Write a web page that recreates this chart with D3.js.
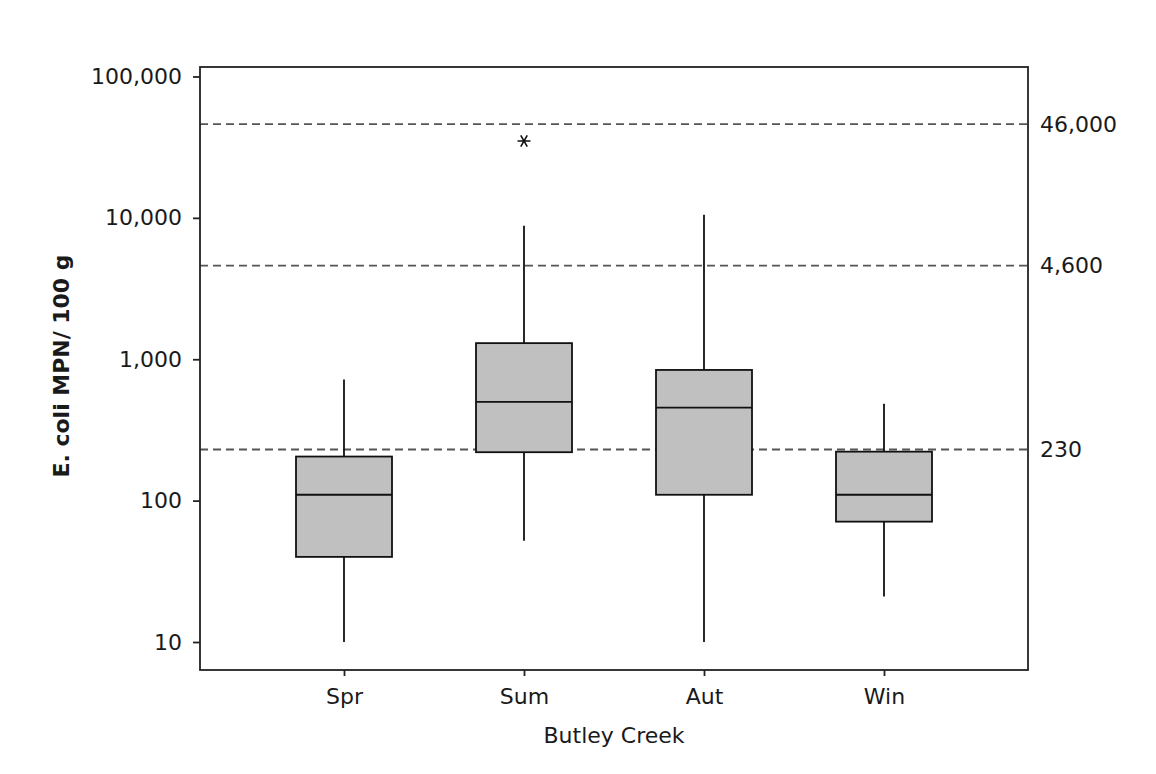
<!DOCTYPE html>
<html lang="en">
<head>
<meta charset="utf-8">
<title>Butley Creek E. coli</title>
<script src="https://cdn.jsdelivr.net/npm/d3@7"></script>
<style>
  body { margin: 0; background: #fff; }
  svg text { font-family: "DejaVu Sans", Verdana, sans-serif; fill: #1a1a1a; }
  .axis path, .axis line { stroke: #222; stroke-width: 1.8px; }
  .axis text { font-size: 22px; }
</style>
</head>
<body>
<script>
// seasons and box stats
var seasons = ["Spr", "Sum", "Aut", "Win"];
var whiskerLow = [10, 52, 10, 21];
var q1 = [40, 220, 110, 71];
var median = [110, 500, 455, 110];
var q3 = [205, 1300, 840, 222];
var whiskerHigh = [720, 8800, 10500, 485];
var outliers = [{ season: "Sum", value: 35000 }];
var yTicks = [10, 100, 1000, 10000, 100000];
var limits = [230, 4600, 46000];

var w = 1156, h = 774;
var plotLeft = 200, plotRight = 1028, plotTop = 67, plotBottom = 670;

var svg = d3.select("body").append("svg")
  .attr("width", w)
  .attr("height", h);

var x = d3.scalePoint()
  .domain(seasons)
  .range([plotLeft, plotRight])
  .padding(0.8);

var y = d3.scaleLog()
  .domain([Math.pow(10, 0.802), Math.pow(10, 5.067)])
  .range([plotBottom, plotTop]);

var boxW = 96;
var fmt = d3.format(",");

// reference lines
svg.selectAll(".limit")
  .data(limits)
  .enter().append("line")
  .attr("x1", plotLeft).attr("x2", plotRight)
  .attr("y1", function(d) { return y(d); })
  .attr("y2", function(d) { return y(d); })
  .attr("stroke", "#555")
  .attr("stroke-width", 1.8)
  .attr("stroke-dasharray", "8,5");

svg.selectAll(".limitLabel")
  .data(limits)
  .enter().append("text")
  .attr("x", plotRight + 12)
  .attr("y", function(d) { return y(d); })
  .attr("dy", "0.36em")
  .attr("font-size", "22px")
  .text(function(d) { return fmt(d); });

// boxes
var boxes = svg.selectAll(".box")
  .data(seasons)
  .enter().append("g");

boxes.append("line")
  .attr("x1", function(d) { return x(d); })
  .attr("x2", function(d) { return x(d); })
  .attr("y1", function(d, i) { return y(whiskerLow[i]); })
  .attr("y2", function(d, i) { return y(q1[i]); })
  .attr("stroke", "#111").attr("stroke-width", 1.8);

boxes.append("line")
  .attr("x1", function(d) { return x(d); })
  .attr("x2", function(d) { return x(d); })
  .attr("y1", function(d, i) { return y(q3[i]); })
  .attr("y2", function(d, i) { return y(whiskerHigh[i]); })
  .attr("stroke", "#111").attr("stroke-width", 1.8);

boxes.append("rect")
  .attr("x", function(d) { return x(d) - boxW / 2; })
  .attr("width", boxW)
  .attr("y", function(d, i) { return y(q3[i]); })
  .attr("height", function(d, i) { return y(q1[i]) - y(q3[i]); })
  .attr("fill", "#c0c0c0")
  .attr("stroke", "#111").attr("stroke-width", 1.8);

boxes.append("line")
  .attr("x1", function(d) { return x(d) - boxW / 2; })
  .attr("x2", function(d) { return x(d) + boxW / 2; })
  .attr("y1", function(d, i) { return y(median[i]); })
  .attr("y2", function(d, i) { return y(median[i]); })
  .attr("stroke", "#111").attr("stroke-width", 1.8);

// outlier asterisk (6 arms)
var r = 6.5;
svg.selectAll(".outlier")
  .data(outliers)
  .enter().append("path")
  .attr("transform", function(d) { return "translate(" + x(d.season) + "," + y(d.value) + ")"; })
  .attr("d", function() {
    var s = "";
    [0, 60, 120].forEach(function(a) {
      var t = a * Math.PI / 180;
      s += "M" + (-r * Math.cos(t)) + "," + (-r * Math.sin(t)) + "L" + (r * Math.cos(t)) + "," + (r * Math.sin(t));
    });
    return s;
  })
  .attr("stroke", "#111")
  .attr("stroke-width", 1.6)
  .attr("fill", "none");

// frame
svg.append("rect")
  .attr("x", plotLeft).attr("y", plotTop)
  .attr("width", plotRight - plotLeft).attr("height", plotBottom - plotTop)
  .attr("fill", "none")
  .attr("stroke", "#222").attr("stroke-width", 1.8);

// axes
svg.append("g")
  .attr("class", "axis")
  .attr("transform", "translate(" + plotLeft + ",0)")
  .call(d3.axisLeft(y).tickValues(yTicks).tickFormat(fmt).tickSizeOuter(0).tickSize(7).tickPadding(11))
  .call(function(g) { g.select(".domain").remove(); });

svg.append("g")
  .attr("class", "axis")
  .attr("transform", "translate(0," + plotBottom + ")")
  .call(d3.axisBottom(x).tickSizeOuter(0).tickSize(6).tickPadding(12))
  .call(function(g) { g.select(".domain").remove(); });

// titles
svg.append("text")
  .attr("x", x("Sum") + (x("Aut") - x("Sum")) / 2)
  .attr("y", 743)
  .attr("text-anchor", "middle")
  .attr("font-size", "22px")
  .text("Butley Creek");

svg.append("text")
  .attr("transform", "translate(69," + 366 + ") rotate(-90)")
  .attr("text-anchor", "middle")
  .attr("font-size", "21px")
  .attr("font-weight", "bold")
  .attr("textLength", 223)
  .attr("lengthAdjust", "spacingAndGlyphs")
  .text("E. coli MPN/ 100 g");
</script>
</body>
</html>
